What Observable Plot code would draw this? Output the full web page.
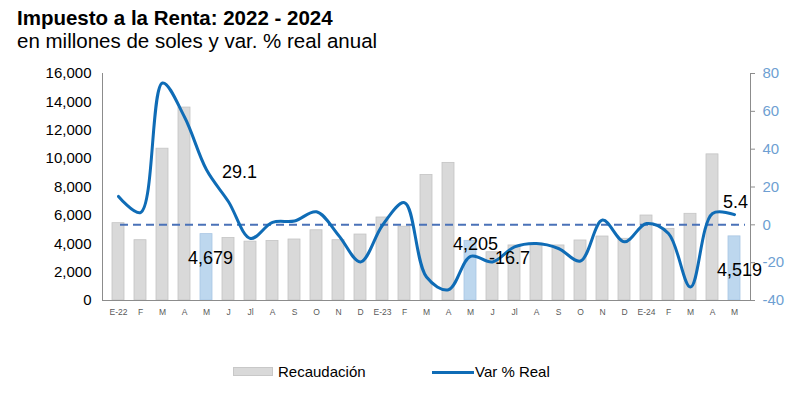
<!DOCTYPE html>
<html>
<head>
<meta charset="utf-8">
<script src="https://cdn.jsdelivr.net/npm/d3@7"></script>
<script src="https://cdn.jsdelivr.net/npm/@observablehq/plot@0.6"></script>
<style>
  html, body { margin: 0; padding: 0; background: #fff; }
  #wrap { position: relative; width: 809px; height: 397px; font-family: Arial, "Liberation Sans", sans-serif; }
  #title { position: absolute; left: 17px; top: 6px; font-size: 20.5px; font-weight: bold; color: #000; white-space: nowrap; line-height: 24px; }
  #subtitle { position: absolute; left: 17px; top: 29px; font-size: 20.5px; color: #000; white-space: nowrap; line-height: 24px; }
  #chart { position: absolute; left: 0; top: 60px; }
  #legend { position: absolute; left: 0; top: 362px; width: 809px; height: 20px; font-size: 15px; color: #000; }
  .sw-bar { position: absolute; left: 233px; top: 5px; width: 40px; height: 9px; background: #d9d9d9; border: 1px solid #c8c8c8; box-sizing: border-box; }
  .lab1 { position: absolute; left: 278px; top: 0px; line-height: 20px; }
  .sw-line { position: absolute; left: 432px; top: 8.5px; width: 42px; height: 3px; background: #0f6cb6; }
  .lab2 { position: absolute; left: 475px; top: 0px; line-height: 20px; }
</style>
</head>
<body>
<div id="wrap">
  <div id="title">Impuesto a la Renta: 2022 - 2024</div>
  <div id="subtitle">en millones de soles y var. % real anual</div>
  <div id="chart"></div>
  <div id="legend">
    <div class="sw-bar"></div><div class="lab1">Recaudación</div>
    <div class="sw-line"></div><div class="lab2">Var % Real</div>
  </div>
</div>
<script>
const labels = ["E-22","F","M","A","M","J","Jl","A","S","O","N","D",
                "E-23","F","M","A","M","J","Jl","A","S","O","N","D",
                "E-24","F","M","A","M"];
const recaudacion = [5450,4250,10700,13600,4679,4400,4150,4200,4300,4950,4250,4650,
                     5850,5200,8850,9700,4205,3400,3880,4000,3880,4230,4510,4350,
                     5990,5050,6110,10300,4519];
const varReal = [15,6.5,75,57,29.1,12.2,-7.2,1.3,2,6.9,-5.5,-19.6,
                 -0.2,11.7,-27.6,-34.3,-16.7,-19.6,-11.7,-9.9,-12.5,-19.1,2.5,-9,
                 0.7,-4.6,-32.9,6,5.4];
const highlighted = [4, 16, 28];
const leftTicks = [0,2000,4000,6000,8000,10000,12000,14000,16000];
const rightTicks = [-40,-20,0,20,40,60,80];

// right-axis values mapped onto the left scale domain [0,16000]
const rMin = -40, rMax = 80, lMax = 16000;
const toY = v => (v - rMin) / (rMax - rMin) * lMax;
const fromY = y => Math.round(y / lMax * (rMax - rMin) + rMin);

const data = labels.map((l, i) => ({i, label: l, rec: recaudacion[i], v: varReal[i], vy: toY(varReal[i]), hl: highlighted.includes(i)}));

const font = "Arial, 'Liberation Sans', sans-serif";
const fmt = d3.format(",");

// label helpers (offsets only; values come from the data arrays)
const barLabel = (i, dx, dy) => Plot.text([data[i]], {x: "i", y: "rec", text: d => fmt(d.rec), fontSize: 18, fill: "#000", dx, dy});
const lineLabel = (i, dx, dy) => Plot.text([data[i]], {x: "i", y: "vy", text: d => String(d.v), fontSize: 18, fill: "#000", dx, dy});

const chart = Plot.plot({
  width: 809,
  height: 270,
  marginTop: 13,
  marginBottom: 30,
  marginLeft: 102,
  marginRight: 59,
  style: {fontFamily: font, background: "#fff"},
  x: {type: "band", domain: d3.range(labels.length), paddingInner: 0.46, paddingOuter: 0.25, axis: null, label: null},
  y: {domain: [0, lMax], axis: null, label: null},
  marks: [
    Plot.barY(data, {x: "i", y: "rec", fill: d => d.hl ? "#bdd7ee" : "#d9d9d9", stroke: d => d.hl ? "#a9c6e3" : "#c4c4c4", strokeWidth: 0.8}),
    Plot.ruleY([toY(0)], {stroke: "#4a72b8", strokeWidth: 2, strokeDasharray: "8,5", insetLeft: 18, insetRight: 5}),
    Plot.line(data, {x: "i", y: "vy", stroke: "#0f6cb6", strokeWidth: 3, curve: "catmull-rom"}),
    Plot.ruleY([0], {stroke: "#8c8c8c", strokeWidth: 1}),
    Plot.frame({anchor: "left", stroke: "#8c8c8c"}),
    Plot.frame({anchor: "right", stroke: "#8c8c8c"}),
    Plot.axisX({tickSize: 0, tickPadding: 8, tickFormat: i => labels[i], fontSize: 8.5, fill: "#595959", label: null}),
    Plot.axisY(leftTicks, {anchor: "left", tickSize: 0, tickPadding: 11, tickFormat: fmt, fontSize: 15, fill: "#000", label: null}),
    Plot.axisY(rightTicks.map(toY), {anchor: "right", tickSize: 4, tickPadding: 8, stroke: "#8c8c8c", tickFormat: fromY, fontSize: 15, fill: "#6e9fd2", label: null}),
    barLabel(4, 4, 24),
    barLabel(16, 5, 3),
    barLabel(28, 5, 34),
    lineLabel(4, 33, 2),
    lineLabel(16, 39, 2),
    lineLabel(28, 1, -12)
  ]
});
document.getElementById("chart").appendChild(chart);
</script>
</body>
</html>
